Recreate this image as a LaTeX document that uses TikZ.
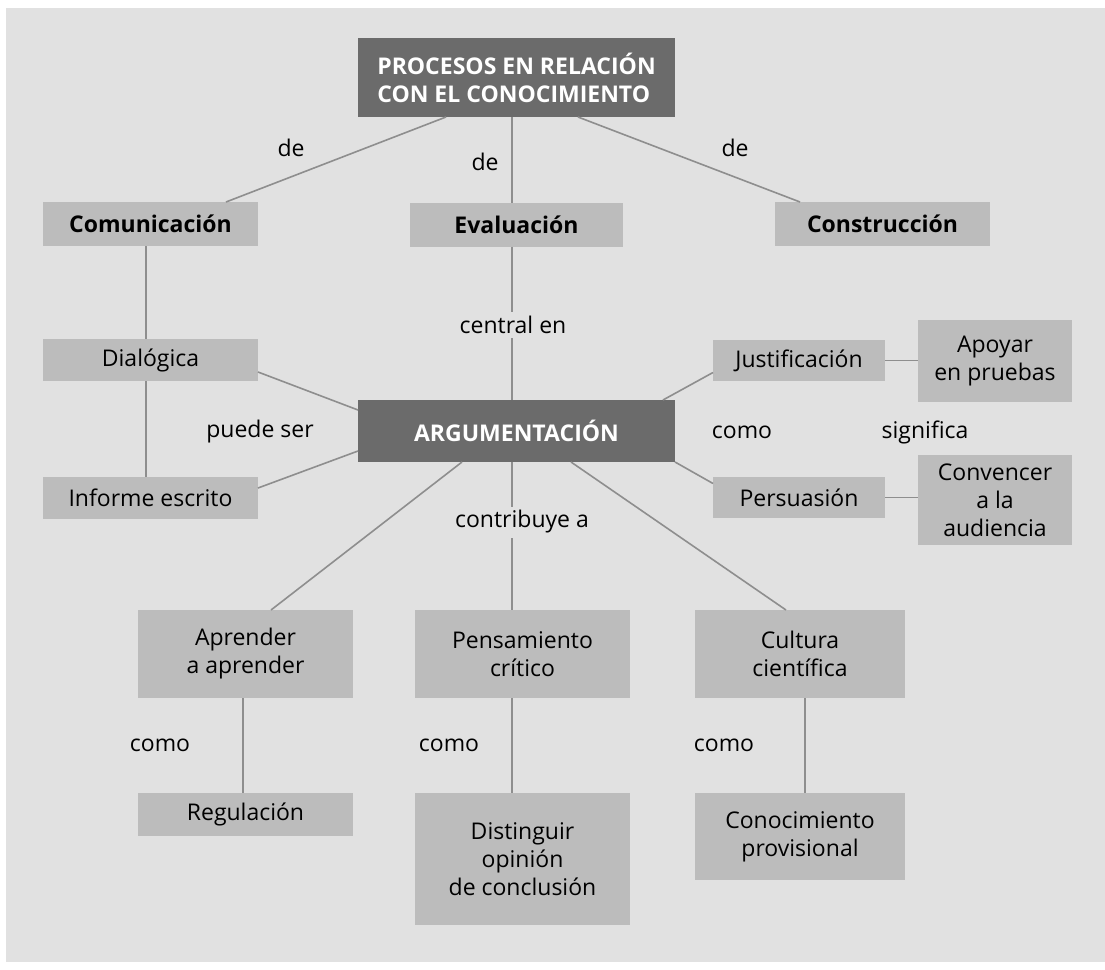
\documentclass[tikz,border=0pt]{standalone}
\usepackage{fontspec}
\setmainfont{Open Sans}
\definecolor{bg}{HTML}{E1E1E1}
\definecolor{lbox}{HTML}{BCBCBC}
\definecolor{dbox}{HTML}{6B6B6B}
\definecolor{lne}{HTML}{8E8E8E}
\newcommand{\myfs}{\fontsize{23}{28}\selectfont}
\tikzset{
  base/.style={inner sep=0pt, outer sep=0pt, align=center, font=\myfs},
  lightbox/.style={base, fill=lbox, text=black},
  boldbox/.style={lightbox, font=\myfs\bfseries},
  darkbox/.style={base, fill=dbox, text=white, font=\myfs\bfseries},
  lbl/.style={inner sep=2pt, font=\myfs, text=black},
  mlbl/.style={lbl, fill=bg, inner sep=4pt},
  conn/.style={draw=lne, line width=1.6pt}
}
\begin{document}
\begin{tikzpicture}[x=1pt,y=-1pt]
\path[use as bounding box, fill=white] (0,0) rectangle (1105,969);
\fill[bg] (6,8) rectangle (1105,962);
% nodes
\node[darkbox, minimum width=317, minimum height=79, align=left] (top) at (516.5,77.5) {PROCESOS EN RELACIÓN\\CON EL CONOCIMIENTO};
\node[boldbox, minimum width=215, minimum height=44] (com) at (150.5,224) {Comunicación};
\node[boldbox, minimum width=213, minimum height=44] (eva) at (516.5,224.5) {Evaluación};
\node[boldbox, minimum width=215, minimum height=44] (con) at (882.5,224) {Construcción};
\node[lightbox, minimum width=215, minimum height=42] (dia) at (150.5,360) {Dialógica};
\node[darkbox, minimum width=317, minimum height=62] (arg) at (516.5,431) {ARGUMENTACIÓN};
\node[lightbox, minimum width=172, minimum height=41] (jus) at (799,360.5) {Justificación};
\node[lightbox, minimum width=154, minimum height=82] (apo) at (995,361) {Apoyar\\en pruebas};
\node[lightbox, minimum width=215, minimum height=42] (inf) at (150.5,498) {Informe escrito};
\node[lightbox, minimum width=172, minimum height=41] (per) at (799,497.5) {Persuasión};
\node[lightbox, minimum width=154, minimum height=90] (cnv) at (995,500) {Convencer\\a la\\audiencia};
\node[lightbox, minimum width=215, minimum height=88] (apr) at (245.5,654) {Aprender\\a aprender};
\node[lightbox, minimum width=215, minimum height=88] (pen) at (522.5,654) {Pensamiento\\crítico};
\node[lightbox, minimum width=210, minimum height=88] (cul) at (800,654) {Cultura\\científica};
\node[lightbox, minimum width=215, minimum height=43] (reg) at (245.5,814.5) {Regulación};
\node[lightbox, minimum width=215, minimum height=132] (dis) at (522.5,859) {Distinguir\\opinión\\de conclusión};
\node[lightbox, minimum width=210, minimum height=87] (cnp) at (800,836.5) {Conocimiento\\provisional};
% connectors
\draw[conn] ([xshift=-70.5pt]top.south) -- ([xshift=75.5pt]com.north);
\draw[conn] ([xshift=-4.5pt]top.south) -- ([xshift=-4.5pt]top.south |- eva.north);
\draw[conn] ([xshift=61.5pt]top.south) -- ([xshift=-82.5pt]con.north);
\draw[conn] ([xshift=-4.5pt]com.south) -- ([xshift=-4.5pt]com.south |- dia.north);
\draw[conn] ([xshift=-4.5pt]dia.south) -- ([xshift=-4.5pt]dia.south |- inf.north);
\draw[conn] ([xshift=-4.5pt]eva.south) -- ([xshift=-4.5pt]eva.south |- arg.north);
\draw[conn] ([yshift=-12pt]dia.east) -- ([yshift=21pt]arg.west);
\draw[conn] ([yshift=10pt]inf.east) -- ([yshift=-20pt]arg.west);
\draw[conn] ([xshift=-12pt]arg.north east) -- ([yshift=-12pt]jus.west);
\draw[conn] (arg.south east) -- ([yshift=14pt]per.west);
\draw[conn] (jus.east) -- (jus.east -| apo.west);
\draw[conn] (per.east) -- (per.east -| cnv.west);
\draw[conn] ([xshift=-54.5pt]arg.south) -- ([xshift=25.5pt]apr.north);
\draw[conn] ([xshift=-4.5pt]arg.south) -- ([xshift=-4.5pt]arg.south |- pen.north);
\draw[conn] ([xshift=54.5pt]arg.south) -- ([xshift=-14pt]cul.north);
\draw[conn] ([xshift=-2.5pt]apr.south) -- ([xshift=-2.5pt]apr.south |- reg.north);
\draw[conn] ([xshift=-10.5pt]pen.south) -- ([xshift=-10.5pt]pen.south |- dis.north);
\draw[conn] ([xshift=5pt]cul.south) -- ([xshift=5pt]cul.south |- cnp.north);
% labels
\node[lbl] (l1) at (291,148) {de};
\node[lbl] (l2) at (485,162) {de};
\node[lbl] (l3) at (735,148) {de};
\node[mlbl] (l4) at (513,325) {central en};
\node[lbl] (l5) at (260,432) {puede ser};
\node[lbl] (l6) at (742,432) {como};
\node[lbl] (l7) at (925,432) {significa};
\node[mlbl] (l8) at (522,522) {contribuye a};
\node[lbl] (l9) at (160,745) {como};
\node[lbl] (l10) at (449,745) {como};
\node[lbl] (l11) at (724,745) {como};
\end{tikzpicture}
\end{document}
